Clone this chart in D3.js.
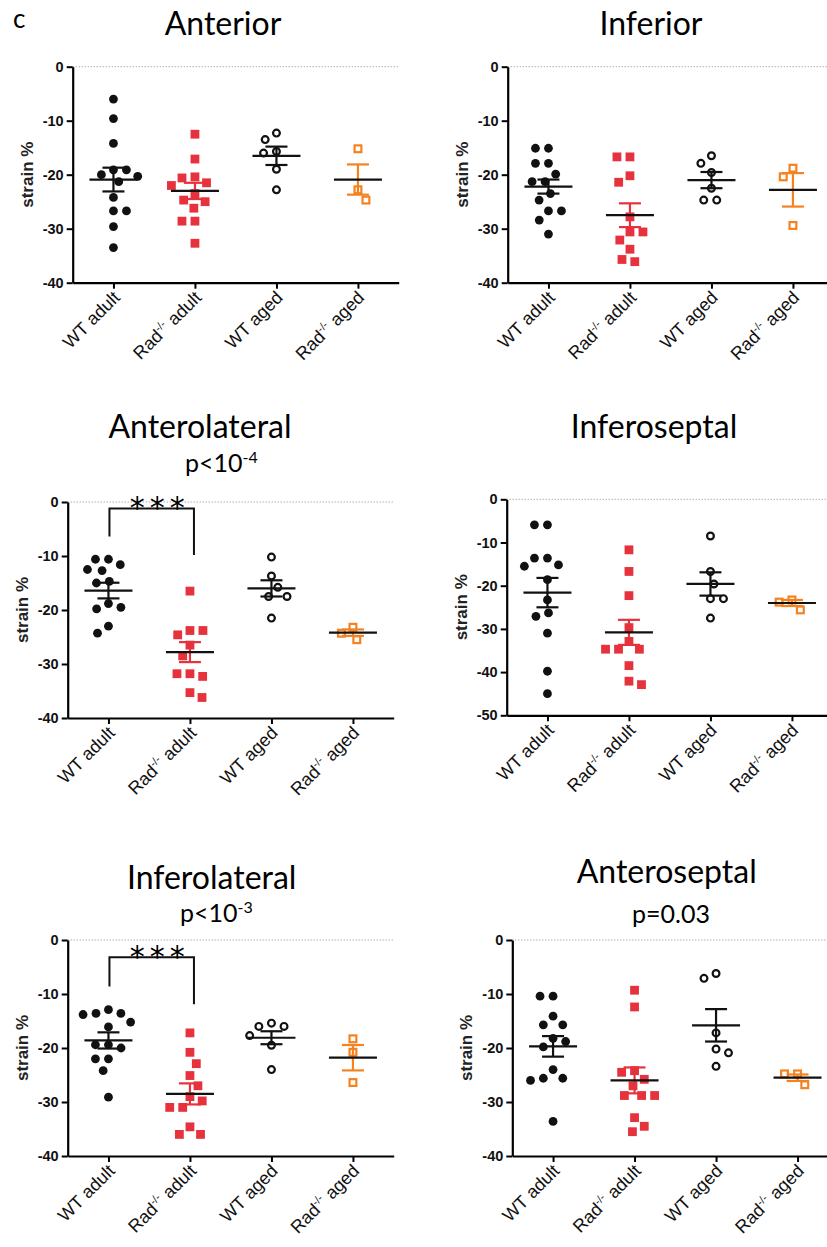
<!DOCTYPE html>
<html>
<head>
<meta charset="utf-8">
<script src="https://cdn.jsdelivr.net/npm/d3@7"></script>
<style>
  body { margin: 0; background: #fff; }
  .tick-y text { font-family: "Liberation Sans", Arial, sans-serif; font-weight: bold; font-size: 14.5px; }
  .cat text { font-family: "Liberation Sans", Arial, sans-serif; font-size: 18px; }
  .ylab { font-family: "Liberation Sans", Arial, sans-serif; font-weight: bold; font-size: 17px; }
  .title, .pval, .letter { font-family: Lato, "Open Sans", sans-serif; }
</style>
</head>
<body>
<svg id="fig" width="827" height="1247"></svg>
<script>
// groups and colours
const groups = ["WT adult", "Rad-/- adult", "WT aged", "Rad-/- aged"]
const groupColor = ["#111111", "#e6323c", "#111111", "#f5821f"]

// strain % per group (WT adult, Rad adult, WT aged, Rad aged)
const anteriorPts = [
    [-6, -9.6, -14.2, -19.1, -19.1, -20, -20.3, -21.3, -24.2, -26.7, -26.7, -29.6, -33.5],
    [-12.5, -17.1, -20.4, -20.6, -21.5, -22, -23.5, -24.7, -25, -26.2, -28.6, -28.6, -32.7],
    [-12.3, -13.5, -15.7, -16, -19, -22.8],
    [-15.2, -22.8, -24.7]
]
const anteriorMean = [-20.9, -23.0, -16.5, -20.9]
const anteriorSem = [2.2, 1.5, 1.7, 2.8]

const inferiorPts = [
    [-15.1, -15.1, -17.9, -17.9, -19.9, -21.3, -21.3, -23.5, -24.7, -26.7, -26.7, -28.4, -31.0],
    [-16.7, -16.7, -20.2, -21.4, -27.8, -30.6, -30.6, -32.1, -33.8, -35.7, -36.1],
    [-16.5, -17.9, -19.6, -22.5, -24.7, -24.7],
    [-18.8, -20.4, -29.4]
]
const inferiorMean = [-22.2, -27.5, -21.0, -22.8]
const inferiorSem = [1.3, 2.2, 1.5, 3.1]

const anterolateralPts = [
    [-10.6, -10.6, -11.6, -12.5, -12.7, -14.7, -15.0, -18.8, -19.5, -19.8, -23.0, -24.3],
    [-16.5, -23.8, -23.8, -24.6, -26.5, -28.5, -31.8, -31.8, -32.3, -35.3, -36.2],
    [-10.2, -13.7, -15.8, -17.5, -17.5, -21.5],
    [-23.2, -24.3, -25.5]
]
const anterolateralMean = [-16.4, -27.8, -16.0, -24.2]
const anterolateralSem = [1.45, 1.85, 1.5, 0.6]

const inferoseptalPts = [
    [-5.9, -5.9, -13.6, -13.6, -15.2, -15.5, -18.6, -23.3, -26.3, -27.1, -31.0, -39.8, -45.0],
    [-11.7, -16.7, -22.3, -29.7, -32.9, -34.7, -34.7, -34.7, -38.5, -42.1, -42.9],
    [-8.5, -16.7, -19.6, -23.0, -23.0, -27.5],
    [-23.3, -23.8, -25.6]
]
const inferoseptalMean = [-21.6, -30.8, -19.6, -24.0]
const inferoseptalSem = [3.4, 2.9, 2.7, 0.7]

const inferolateralPts = [
    [-12.9, -13.6, -13.6, -13.8, -15.2, -16.1, -19.4, -19.4, -20.0, -22.0, -22.0, -24.2, -29.1],
    [-17.2, -20.8, -22.9, -25.1, -27.0, -29.0, -29.8, -31.0, -31.0, -34.6, -36.0, -36.0],
    [-15.4, -16.0, -16.0, -17.7, -19.5, -24.0],
    [-18.3, -20.8, -26.4]
]
const inferolateralMean = [-18.6, -28.5, -18.1, -21.8]
const inferolateralSem = [1.5, 1.95, 1.2, 2.35]

const anteroseptalPts = [
    [-10.4, -10.4, -14.1, -15.7, -15.7, -18.2, -18.8, -19.8, -24.0, -25.6, -25.6, -26.0, -33.6],
    [-9.3, -12.4, -24.2, -24.5, -25.8, -27.0, -28.8, -28.8, -28.8, -32.9, -34.5, -35.5],
    [-6.2, -7.1, -17.2, -20.2, -20.9, -23.4],
    [-24.8, -24.8, -26.8]
]
const anteroseptalMean = [-19.7, -26.0, -15.8, -25.5]
const anteroseptalSem = [1.9, 2.4, 3.0, 0.6]

// significance brackets (WT adult vs Rad adult): top, left leg end, right leg end
const anterolateralBracket = [-1.2, -6.4, -9.8]
const inferolateralBracket = [-3.2, -8.6, -11.9]

const plotW = 326, plotH = 216

const panels = [
    { title: "Anterior", pts: anteriorPts, mean: anteriorMean, sem: anteriorSem, yMin: -40,
      x: 72.7, y: 66.7, tx: 223, ty: 35 },
    { title: "Inferior", pts: inferiorPts, mean: inferiorMean, sem: inferiorSem, yMin: -40,
      x: 507.7, y: 66.7, tx: 651, ty: 35 },
    { title: "Anterolateral", pts: anterolateralPts, mean: anterolateralMean, sem: anterolateralSem, yMin: -40,
      x: 67.7, y: 502, tx: 200, ty: 438,
      p: ["p<10", "-4"], px: 185, py: 472, bracket: anterolateralBracket },
    { title: "Inferoseptal", pts: inferoseptalPts, mean: inferoseptalMean, sem: inferoseptalSem, yMin: -50,
      x: 506.7, y: 499.3, tx: 654, ty: 438 },
    { title: "Inferolateral", pts: inferolateralPts, mean: inferolateralMean, sem: inferolateralSem, yMin: -40,
      x: 67.7, y: 940, tx: 211.7, ty: 889,
      p: ["p<10", "-3"], px: 180, py: 922, bracket: inferolateralBracket },
    { title: "Anteroseptal", pts: anteroseptalPts, mean: anteroseptalMean, sem: anteroseptalSem, yMin: -40,
      x: 512.3, y: 940, tx: 666.7, ty: 883,
      p: ["p=0.03"], px: 632, py: 923 }
]

const svg = d3.select("#fig")

svg.append("text").attr("class", "letter")
    .attr("x", 13).attr("y", 28)
    .attr("font-size", 26)
    .text("c")

// simple dodge so that points with close values sit side by side
function swarm(values, y, dist) {
    const placed = []
    const order = values.map((v, i) => i).sort((a, b) => values[b] - values[a])
    const out = new Array(values.length)
    order.forEach((i, k) => {
        const py = y(values[i])
        const bad = []
        placed.forEach(p => {
            const dy = py - p.y
            if (Math.abs(dy) < dist) {
                const w = Math.sqrt(dist * dist - dy * dy)
                bad.push([p.dx - w, p.dx + w])
            }
        })
        let cands = [0]
        bad.forEach(b => cands.push(b[0], b[1]))
        cands = cands.filter(c => !bad.some(b => c > b[0] + 1e-6 && c < b[1] - 1e-6))
        cands.sort((a, b) => Math.abs(a) - Math.abs(b) || (k % 2 ? a - b : b - a))
        const dx = cands[0]
        placed.push({ y: py, dx })
        out[i] = { v: values[i], y: py, dx }
    })
    return out
}

function drawPanel(p) {
    const g = svg.append("g").attr("transform", `translate(${p.x},${p.y})`)
    const y = d3.scaleLinear().domain([p.yMin, 0]).range([plotH, 0])
    const x = d3.scalePoint().domain(groups).range([0, plotW]).padding(0.5)

    // title
    svg.append("text").attr("class", "title")
        .attr("x", p.tx).attr("y", p.ty)
        .attr("text-anchor", "middle")
        .attr("font-size", 32)
        .text(p.title)

    if (p.p) {
        const t = svg.append("text").attr("class", "pval")
            .attr("x", p.px).attr("y", p.py)
            .attr("font-size", 25)
        t.append("tspan").text(p.p[0])
        if (p.p[1]) t.append("tspan").attr("font-size", 16).attr("dy", -9).text(p.p[1])
    }

    // zero line
    g.append("line")
        .attr("x1", 0).attr("x2", plotW)
        .attr("y1", y(0)).attr("y2", y(0))
        .attr("stroke", "#8a8a8a").attr("stroke-width", 1)
        .attr("stroke-dasharray", "1,2")

    // axes
    const yAxis = g.append("g").attr("class", "tick-y")
        .call(d3.axisLeft(y).tickValues(d3.range(p.yMin, 1, 10))
            .tickFormat(d => String(d))
            .tickSize(6).tickSizeOuter(0).tickPadding(3))
    yAxis.select(".domain").attr("stroke-width", 2.2)
    yAxis.selectAll(".tick line").attr("stroke-width", 2)
    yAxis.selectAll(".tick text").attr("fill", "#111")

    const xAxis = g.append("g").attr("class", "cat")
        .attr("transform", `translate(0,${plotH})`)
        .call(d3.axisBottom(x).tickSize(6).tickSizeOuter(0).tickFormat(""))
    xAxis.select(".domain").attr("stroke-width", 2.2)
    xAxis.selectAll(".tick line").attr("stroke-width", 2)
    xAxis.selectAll(".tick text").each(function (d) {
        const t = d3.select(this)
            .attr("text-anchor", "end")
            .attr("fill", "#111")
            .attr("dy", 0).attr("y", 0)
            .attr("transform", "translate(7,16) rotate(-45)")
        const parts = d.split("-/-")
        if (parts.length > 1) {
            t.append("tspan").text(parts[0])
            t.append("tspan").attr("font-size", 11).attr("dy", -7).text("-/-")
            t.append("tspan").attr("dy", 7).text(parts[1])
        } else {
            t.text(d)
        }
    })

    g.append("text").attr("class", "ylab")
        .attr("transform", `translate(-40,${plotH / 2}) rotate(-90)`)
        .attr("text-anchor", "middle")
        .attr("fill", "#222")
        .text("strain %")

    // points
    const r = 4.4, side = 8.8
    groups.forEach((grp, gi) => {
        const pts = swarm(p.pts[gi], y, 13)
        const cx = x(grp)
        const col = groupColor[gi]
        const pg = g.append("g")
        if (gi === 0) {
            pg.selectAll("circle").data(pts).join("circle")
                .attr("cx", d => cx + d.dx).attr("cy", d => d.y).attr("r", r)
                .attr("fill", col)
        } else if (gi === 2) {
            pg.selectAll("circle").data(pts).join("circle")
                .attr("cx", d => cx + d.dx).attr("cy", d => d.y).attr("r", r - 1)
                .attr("fill", "#fff").attr("stroke", col).attr("stroke-width", 2.2)
        } else if (gi === 1) {
            pg.selectAll("rect").data(pts).join("rect")
                .attr("x", d => cx + d.dx - side / 2).attr("y", d => d.y - side / 2)
                .attr("width", side).attr("height", side)
                .attr("fill", col)
        } else {
            pg.selectAll("rect").data(pts).join("rect")
                .attr("x", d => cx + d.dx - (side - 2) / 2).attr("y", d => d.y - (side - 2) / 2)
                .attr("width", side - 2).attr("height", side - 2)
                .attr("fill", "none").attr("stroke", col).attr("stroke-width", 2.2)
        }

        // mean and SEM
        const m = p.mean[gi], s = p.sem[gi]
        const eg = g.append("g").attr("stroke-width", 2.2)
        eg.append("line")
            .attr("x1", cx).attr("x2", cx)
            .attr("y1", y(m + s)).attr("y2", y(m - s))
            .attr("stroke", col)
        ;[m + s, m - s].forEach(v => {
            eg.append("line")
                .attr("x1", cx - 11).attr("x2", cx + 11)
                .attr("y1", y(v)).attr("y2", y(v))
                .attr("stroke", col)
        })
        eg.append("line")
            .attr("x1", cx - 24).attr("x2", cx + 24)
            .attr("y1", y(m)).attr("y2", y(m))
            .attr("stroke", "#111")
    })

    // significance bracket
    if (p.bracket) {
        const b = p.bracket
        const x0 = x(groups[0]) + 1, x1 = x(groups[1]) + 4
        g.append("path")
            .attr("d", `M${x0},${y(b[1])}V${y(b[0])}H${x1}V${y(b[2])}`)
            .attr("fill", "none").attr("stroke", "#111").attr("stroke-width", 2)
        g.append("text")
            .attr("x", (x0 + x1) / 2 + 8).attr("y", y(b[0]) + 10)
            .attr("text-anchor", "middle")
            .attr("font-family", "DejaVu Sans, sans-serif")
            .attr("font-size", 30)
            .attr("letter-spacing", 5)
            .text("***")
    }
}

panels.forEach(drawPanel)
</script>
</body>
</html>
